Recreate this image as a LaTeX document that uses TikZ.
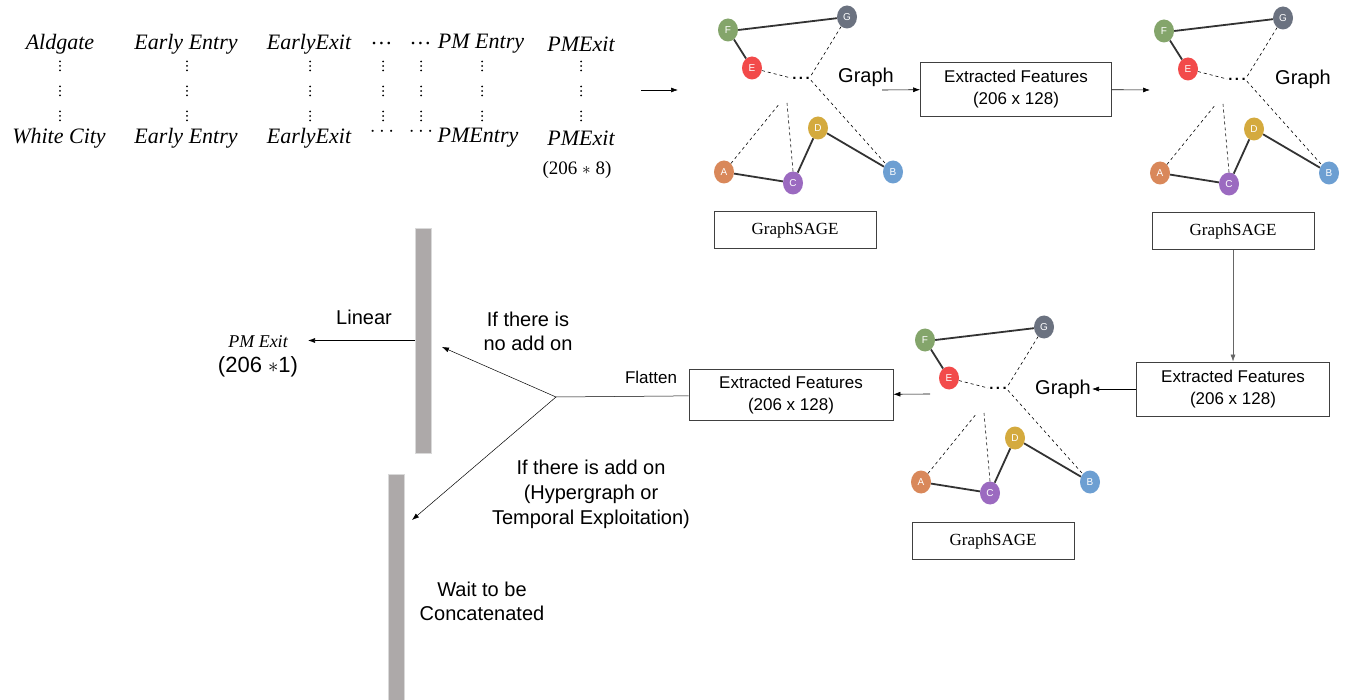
\documentclass[tikz,border=0pt]{standalone}
\usepackage{fontspec}
\setmainfont{Liberation Sans}
\newfontfamily\sagefont{Liberation Serif}
\usetikzlibrary{arrows.meta,positioning,shapes.geometric}
\definecolor{vA}{HTML}{D9885A}
\definecolor{vB}{HTML}{6D9FD2}
\definecolor{vC}{HTML}{9B6AC0}
\definecolor{vD}{HTML}{D4AA3E}
\definecolor{vE}{HTML}{F24A4A}
\definecolor{vF}{HTML}{84A56B}
\definecolor{vG}{HTML}{6B7280}
\definecolor{barfill}{HTML}{ADA9A9}
\tikzset{
	vert/.style={ellipse, minimum width=20pt, minimum height=23pt, inner sep=0pt, text=white, font=\fontsize{10}{10}\selectfont},
	tie/.style={draw=black!80, line width=1.8pt},
	hint/.style={draw=black, dashed, line width=0.6pt},
	lbl/.style={font=\fontsize{20}{24}\selectfont, inner sep=1pt},
	cell/.style={font=\sagefont\itshape\fontsize{22}{26}\selectfont, inner sep=1pt},
	featbox/.style={draw=black!75, line width=0.8pt, minimum width=191pt, minimum height=54pt, align=center, font=\fontsize{17}{22}\selectfont},
	sagebox/.style={draw=black!75, line width=0.8pt, minimum width=162pt, minimum height=37pt, font=\sagefont\fontsize{17}{20}\selectfont},
	bar/.style={fill=barfill, draw=black!15, minimum width=16pt},
	arr/.style={-{Latex[length=7pt,width=5pt]}, line width=0.6pt}
}
% one small graph, #1 #2 shift, #3 prefix
\newcommand{\toygraph}[3]{%
	\begin{scope}[shift={(#1,#2)}]
		\node[vert,fill=vF] (#3F) at (728,30) {F};
		\node[vert,fill=vG] (#3G) at (847,17) {G};
		\node[vert,fill=vE] (#3E) at (752,68) {E};
		\node[vert,fill=vD] (#3D) at (818,128) {D};
		\node[vert,fill=vA] (#3A) at (724,172) {A};
		\node[vert,fill=vC] (#3C) at (793,183) {C};
		\node[vert,fill=vB] (#3B) at (893,172) {B};
		\node[font=\bfseries\fontsize{15}{15}\selectfont, inner sep=1pt] (#3dots) at (801,78) {.\,.\,.};
		\coordinate (#3pa) at (780,103);
		\coordinate (#3pc) at (787,103);
		\draw[tie] (#3F.east) -- (#3G);
		\draw[tie] (#3F) -- (#3E);
		\draw[tie] (#3A) -- (#3C) -- (#3D) -- (#3B);
		\draw[hint] (#3E) -- (#3dots.west);
		\draw[hint] (#3G) -- (#3dots.north east);
		\draw[hint] (#3dots.south east) -- (#3B);
		\draw[hint] (#3A) -- (#3pa);
		\draw[hint] (#3C.north) -- (#3pc);
	\end{scope}}
\begin{document}
\begin{tikzpicture}[x=1pt,y=-1pt]
	\useasboundingbox (0,0) rectangle (1351,700);
	% input table
	\node[cell] (r1c1) at (60,44) {Aldgate};
	\node[cell] (r1c2) at (186,44) {Early Entry};
	\node[cell] (r1c3) at (309,44) {EarlyExit};
	\node[cell] (r1c4) at (382,44) {\ldots};
	\node[cell] (r1c5) at (421,44) {\ldots};
	\node[cell] (r1c6) at (481,44) {PM Entry};
	\node[cell] (r1c7) at (581,44) {PMExit};
	\node[cell] (r2c1) at (59,138) {White City};
	\node[cell] (r2c2) at (186,138) {Early Entry};
	\node[cell] (r2c3) at (309,138) {EarlyExit};
	\node[cell] (r2c4) at (382,132) {$\cdots$};
	\node[cell] (r2c5) at (421,132) {$\cdots$};
	\node[cell] (r2c6) at (478,138) {PMEntry};
	\node[cell] (r2c7) at (581,138) {PMExit};
	% vertical dots
	\foreach \x in {60,187,310,383,421,482,581}
		\foreach \y in {66,91,116}
			\foreach \d in {-4.5,0,4.5}
				\fill (\x,\y+\d) circle (1pt);
	\node[cell, font=\sagefont\fontsize{19}{22}\selectfont] (dimin) at (577,170) {(206 $\ast$ 8)};
	% graphs
	\toygraph{0}{0}{ga}
	\toygraph{436}{1}{gb}
	\toygraph{197}{310}{gc}
	\node[lbl] (graph1) at (866,77) {Graph};
	\node[lbl] (graph2) at (1303,79) {Graph};
	\node[lbl] (graph3) at (1063,389) {Graph};
	\node[sagebox] (sage1) at (795,230) {GraphSAGE};
	\node[sagebox] (sage2) at (1233,231) {GraphSAGE};
	\node[sagebox] (sage3) at (993,541) {GraphSAGE};
	\node[featbox] (feat1) at (1016,89) {Extracted Features\\(206 x 128)};
	\node[featbox, minimum width=193pt] (feat2) at (1233,389) {Extracted Features\\(206 x 128)};
	\node[featbox, minimum width=204pt, minimum height=51pt] (feat3) at (791,395) {Extracted Features\\(206 x 128)};
	% flow
	\coordinate (matout) at (641,90);
	\coordinate (g1in) at (678,90);
	\coordinate (g1out) at (882,90);
	\coordinate (g2in) at (1150,90);
	\coordinate (g3out) at (930,394);
	\draw[arr] (matout) -- (g1in);
	\draw[arr] (g1out) -- (feat1);
	\draw[arr] (feat1) -- (g2in);
	\draw[arr, draw=black!60] (sage2) -- (feat2);
	\draw[arr] (feat2) -- (graph3);
	\draw[arr] (g3out) -- (feat3);
	% output side
	\node[bar, minimum height=225pt] (bar1) at (423,340.5) {};
	\node[bar, minimum height=228pt] (bar2) at (396,588) {};
	\coordinate (split) at (556,397);
	\coordinate (noaddtip) at (442,347);
	\coordinate (addontip) at (412,520);
	\coordinate (linout) at (308,340.5);
	\draw[line width=0.5pt] (feat3) -- (split);
	\draw[arr, line width=0.5pt] (split) -- (noaddtip);
	\draw[arr, line width=0.5pt] (split) -- (addontip);
	\draw[arr] (bar1.west) -- (linout);
	\node[lbl, font=\fontsize{17}{20}\selectfont] (flatten) at (651,377) {Flatten};
	\node[lbl] (linear) at (364,317) {Linear};
	\node[cell, font=\sagefont\itshape\fontsize{18}{20}\selectfont] (pmexit) at (258,342) {PM Exit};
	\node[lbl, font=\fontsize{22}{26}\selectfont] (pmdim) at (258,367) {(206 $\ast$1)};
	\node[lbl, align=center] (noadd) at (528,331) {If there is\\no add on};
	\node[lbl, align=center, font=\fontsize{20}{25}\selectfont] (addon) at (591,494) {If there is add on\\(Hypergraph or\\Temporal Exploitation)};
	\node[lbl, align=center] (wait) at (482,601) {Wait to be\\Concatenated};
\end{tikzpicture}
\end{document}
